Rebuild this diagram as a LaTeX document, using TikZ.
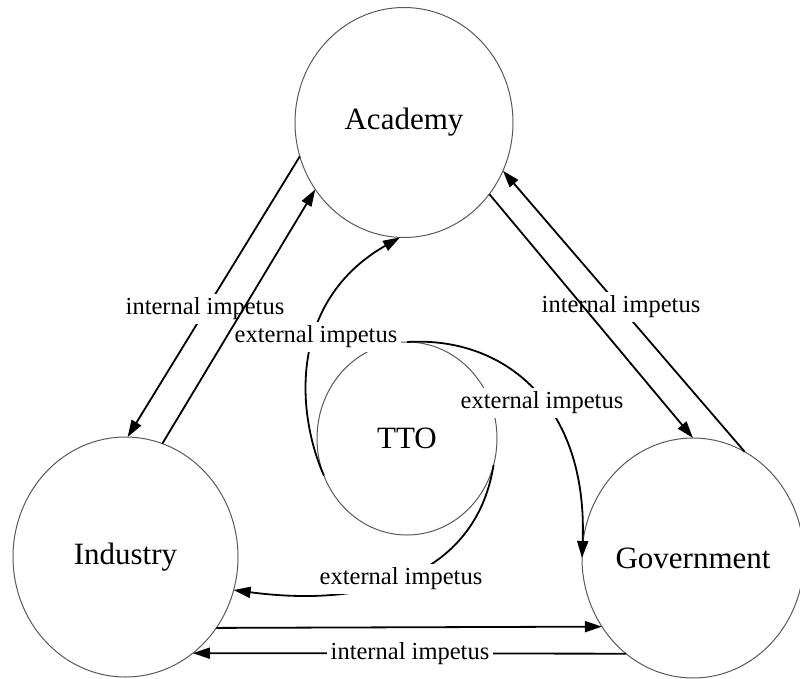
\documentclass[tikz,border=0pt]{standalone}
\usepackage{fontspec}
\setmainfont{Liberation Serif}
\usetikzlibrary{arrows.meta,shapes.geometric}
\begin{document}
\begin{tikzpicture}[x=1pt,y=-1pt,
  actor/.style={ellipse,draw=black!65,line width=1pt,inner sep=0pt,outer sep=0pt,
    font=\fontsize{31}{31}\selectfont},
  lbl/.style={fill=white,inner sep=3.5pt,font=\fontsize{24.5}{24.5}\selectfont},
  flow/.style={line width=1.8pt},
  arr/.style={flow,-{Triangle[length=17pt,width=11pt]}}]
\useasboundingbox (0,0) rectangle (800,678);
% actors
\node[actor,minimum width=218pt,minimum height=230pt] (A) at (404,122.5) {Academy};
\node[actor,minimum width=225pt,minimum height=240pt] (I) at (125.5,557) {Industry};
\node[actor,minimum width=222pt,minimum height=240pt] (G) at (693,558) {Government};
\node[actor,minimum width=180pt,minimum height=193pt] (T) at (407,438.5) {TTO};
% connectors interrupted by their labels
\draw[arr] (A.198.5) -- (I.89);
\draw[arr] (G.64.5) -- (A.334.4);
\draw[arr] (G.235.25) -- (I.-55.7);
\draw[arr] (T.204) .. controls (295,410) and (290,300) .. (A.268.5);
\draw[arr] (T.90) .. controls (505,336) and (588,405) .. (G.180);
\draw[arr] (T.343) .. controls (478,565) and (385,610) .. (I.343.6);
% labels
\node[lbl] (li) at (205,309) {internal impetus};
\node[lbl] (ri) at (621,307) {internal impetus};
\node[lbl] (bi) at (410,654) {internal impetus};
\node[lbl] (te) at (316,337) {external impetus};
\node[lbl] (re) at (542,403) {external impetus};
\node[lbl] (be) at (401,579) {external impetus};
% connectors drawn over the labels
\draw[arr] (I.72) -- (A.217);
\draw[arr] (A.320) -- (G.90);
\draw[arr] (I.-38.05) -- (G.217.8);
\end{tikzpicture}
\end{document}
